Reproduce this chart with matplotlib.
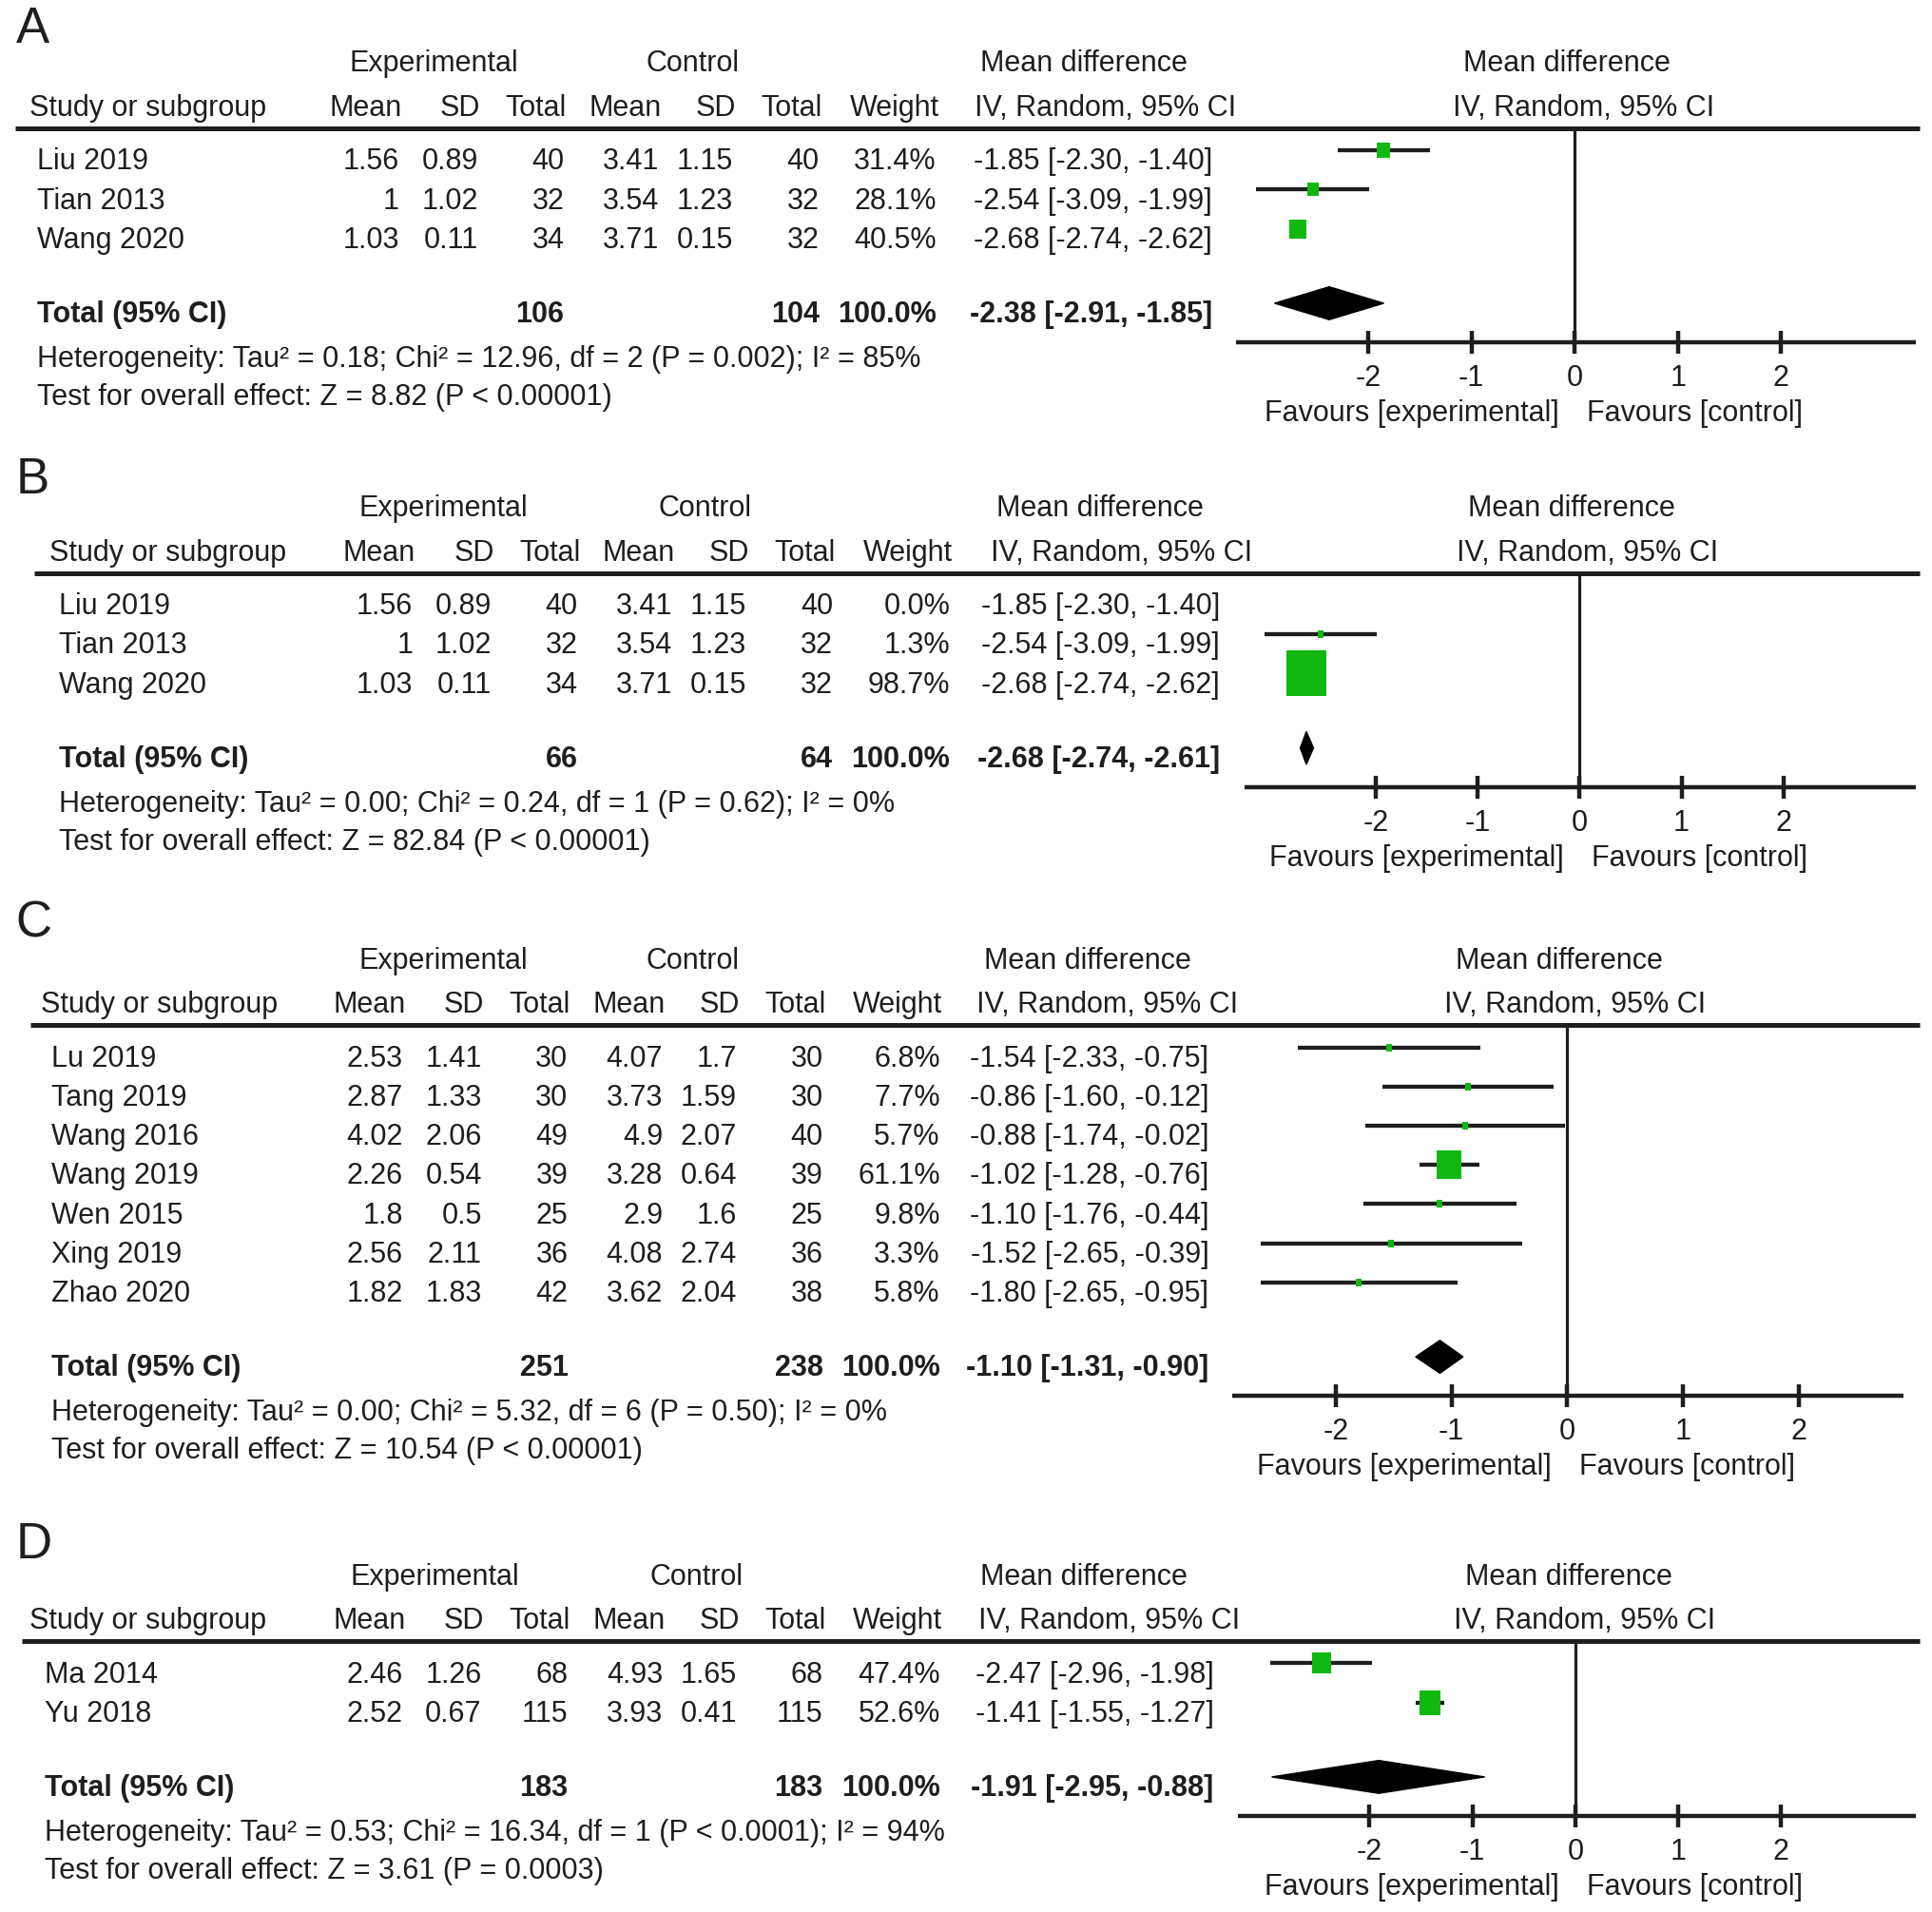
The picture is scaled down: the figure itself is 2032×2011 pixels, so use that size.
import matplotlib
matplotlib.use("Agg")
import matplotlib.pyplot as plt
import matplotlib.transforms as mtransforms
from matplotlib.lines import Line2D
from matplotlib.patches import Polygon

plt.rcParams['font.family'] = ['Liberation Sans', 'DejaVu Sans']

# ---------------- data ----------------
# A
studies_a = ["Liu 2019", "Tian 2013", "Wang 2020"]
exp_mean_a = [1.56, 1, 1.03]
exp_sd_a = [0.89, 1.02, 0.11]
exp_n_a = [40, 32, 34]
ctl_mean_a = [3.41, 3.54, 3.71]
ctl_sd_a = [1.15, 1.23, 0.15]
ctl_n_a = [40, 32, 32]
weight_a = [31.4, 28.1, 40.5]
md_a = [-1.85, -2.54, -2.68]
lo_a = [-2.30, -3.09, -2.74]
hi_a = [-1.40, -1.99, -2.62]
total_a = [106, 104, -2.38, -2.91, -1.85]
het_a = "Heterogeneity: Tau² = 0.18; Chi² = 12.96, df = 2 (P = 0.002); I² = 85%"
test_a = "Test for overall effect: Z = 8.82 (P < 0.00001)"

# B
studies_b = ["Liu 2019", "Tian 2013", "Wang 2020"]
exp_mean_b = [1.56, 1, 1.03]
exp_sd_b = [0.89, 1.02, 0.11]
exp_n_b = [40, 32, 34]
ctl_mean_b = [3.41, 3.54, 3.71]
ctl_sd_b = [1.15, 1.23, 0.15]
ctl_n_b = [40, 32, 32]
weight_b = [0.0, 1.3, 98.7]
md_b = [-1.85, -2.54, -2.68]
lo_b = [-2.30, -3.09, -2.74]
hi_b = [-1.40, -1.99, -2.62]
total_b = [66, 64, -2.68, -2.74, -2.61]
het_b = "Heterogeneity: Tau² = 0.00; Chi² = 0.24, df = 1 (P = 0.62); I² = 0%"
test_b = "Test for overall effect: Z = 82.84 (P < 0.00001)"

# C
studies_c = ["Lu 2019", "Tang 2019", "Wang 2016", "Wang 2019", "Wen 2015", "Xing 2019", "Zhao 2020"]
exp_mean_c = [2.53, 2.87, 4.02, 2.26, 1.8, 2.56, 1.82]
exp_sd_c = [1.41, 1.33, 2.06, 0.54, 0.5, 2.11, 1.83]
exp_n_c = [30, 30, 49, 39, 25, 36, 42]
ctl_mean_c = [4.07, 3.73, 4.9, 3.28, 2.9, 4.08, 3.62]
ctl_sd_c = [1.7, 1.59, 2.07, 0.64, 1.6, 2.74, 2.04]
ctl_n_c = [30, 30, 40, 39, 25, 36, 38]
weight_c = [6.8, 7.7, 5.7, 61.1, 9.8, 3.3, 5.8]
md_c = [-1.54, -0.86, -0.88, -1.02, -1.10, -1.52, -1.80]
lo_c = [-2.33, -1.60, -1.74, -1.28, -1.76, -2.65, -2.65]
hi_c = [-0.75, -0.12, -0.02, -0.76, -0.44, -0.39, -0.95]
total_c = [251, 238, -1.10, -1.31, -0.90]
het_c = "Heterogeneity: Tau² = 0.00; Chi² = 5.32, df = 6 (P = 0.50); I² = 0%"
test_c = "Test for overall effect: Z = 10.54 (P < 0.00001)"

# D
studies_d = ["Ma 2014", "Yu 2018"]
exp_mean_d = [2.46, 2.52]
exp_sd_d = [1.26, 0.67]
exp_n_d = [68, 115]
ctl_mean_d = [4.93, 3.93]
ctl_sd_d = [1.65, 0.41]
ctl_n_d = [68, 115]
weight_d = [47.4, 52.6]
md_d = [-2.47, -1.41]
lo_d = [-2.96, -1.55]
hi_d = [-1.98, -1.27]
total_d = [183, 183, -1.91, -2.95, -0.88]
het_d = "Heterogeneity: Tau² = 0.53; Chi² = 16.34, df = 1 (P < 0.0001); I² = 94%"
test_d = "Test for overall effect: Z = 3.61 (P = 0.0003)"

ticks = [-2, -1, 0, 1, 2]

# ---------------- layout (in 1568 x 1552 reference units) ----------------
W, H = 1568.0, 1552.0
FS = 22
TXT = '#1e1e1e'
GREEN = '#10b810'
PITCH = 31.8
# slightly tall rectangle used for the study markers
BOX = [(-0.45, -0.5), (0.45, -0.5), (0.45, 0.5), (-0.45, 0.5), (-0.45, -0.5)]

fig = plt.figure(figsize=(20.32, 20.11), dpi=100)


def fx(x):
    return x / W


def fy(y):
    return 1 - y / H


def ftext(x, y, s, ha='left', bold=False, size=FS):
    fig.text(fx(x), fy(y), s, ha=ha, va='center', fontsize=size, color=TXT,
             fontweight='bold' if bold else 'normal')


def panel(letter, letter_y, line_y, line_left, name_left, head_left, dx,
          exp_c, ctl_c, md_c_x, ci_c_x, ci_right, ax_left, ax_right, xlim,
          studies, e_m, e_sd, e_n, c_m, c_sd, c_n, w, md, lo, hi, tot, het, test):
    n = len(studies)
    cols = [324 + dx, 388 + dx, 458 + dx, 535 + dx, 595 + dx, 665 + dx, 760 + dx]

    ftext(13, letter_y + 2, letter, size=38)
    # headers
    ftext(exp_c, line_y - 52, "Experimental", ha='center')
    ftext(ctl_c, line_y - 52, "Control", ha='center')
    ftext(md_c_x, line_y - 52, "Mean difference", ha='center')
    hy = line_y - 16
    ftext(head_left, hy, "Study or subgroup")
    for x, s in zip(cols, ["Mean", "SD", "Total", "Mean", "SD", "Total", "Weight"]):
        ftext(x + 2, hy, s, ha='right')
    ftext(ci_c_x, hy, "IV, Random, 95% CI", ha='center')
    fig.add_artist(Line2D([fx(line_left), fx(1558)], [fy(line_y), fy(line_y)],
                          color=TXT, lw=3.6, solid_capstyle='butt'))

    # table rows
    first = line_y + 27.5
    for i in range(n):
        y = first + i * PITCH
        ftext(name_left, y, studies[i])
        vals = [f"{e_m[i]:g}", f"{e_sd[i]:g}", f"{e_n[i]}", f"{c_m[i]:g}",
                f"{c_sd[i]:g}", f"{c_n[i]}", f"{w[i]:.1f}%"]
        for x, s in zip(cols, vals):
            ftext(x, y, s, ha='right')
        ftext(ci_right, y, f"{md[i]:.2f} [{lo[i]:.2f}, {hi[i]:.2f}]", ha='right')

    tidx = n - 1 + 1.9
    ty = first + tidx * PITCH
    ftext(name_left, ty, "Total (95% CI)", bold=True)
    ftext(cols[2], ty, f"{tot[0]}", ha='right', bold=True)
    ftext(cols[5], ty, f"{tot[1]}", ha='right', bold=True)
    ftext(cols[6], ty, "100.0%", ha='right', bold=True)
    ftext(ci_right, ty, f"{tot[2]:.2f} [{tot[3]:.2f}, {tot[4]:.2f}]", ha='right', bold=True)
    ftext(name_left, ty + 36, het)
    ftext(name_left, ty + 67, test)

    # forest plot
    top_pad, bot_pad = 0.57, 1.0
    axis_y = line_y + (top_pad + tidx + bot_pad) * PITCH
    ax = fig.add_axes([fx(ax_left), fy(axis_y), (ax_right - ax_left) / W,
                       (axis_y - line_y) / H])
    ax.set_xlim(*xlim)
    ax.set_ylim(tidx + bot_pad, -top_pad)
    ax.patch.set_alpha(0)
    for s in ['top', 'left', 'right']:
        ax.spines[s].set_visible(False)
    ax.spines['bottom'].set_linewidth(3.2)
    ax.spines['bottom'].set_color(TXT)
    ax.spines['bottom'].set_capstyle('butt')
    ax.set_yticks([])
    ax.set_xticks(ticks)
    ax.set_xticklabels([str(t) for t in ticks])
    ax.tick_params(axis='x', direction='inout', length=17, width=3.2, color=TXT,
                   labelsize=FS, labelcolor=TXT, pad=8)
    ax.axvline(0, color=TXT, lw=2.3, zorder=1)

    for i in range(n):
        if w[i] <= 0:
            continue
        ax.plot([lo[i], hi[i]], [i, i], color=TXT, lw=3.1, solid_capstyle='butt', zorder=2)
        side = max(0.37 * w[i], 5.5) * 1.296 * 0.72
        ax.plot(md[i], i, marker=BOX, markersize=side, color=GREEN,
                markeredgewidth=0, zorder=3)

    hh = 0.42
    ax.add_patch(Polygon([(tot[3], tidx), (tot[2], tidx - hh), (tot[4], tidx),
                          (tot[2], tidx + hh)], closed=True, color='black', zorder=3))

    bt = mtransforms.blended_transform_factory(ax.transAxes, fig.transFigure)
    ax.text(0.487, fy(line_y - 52), "Mean difference", transform=bt, ha='center',
            va='center', fontsize=FS, color=TXT)
    ax.text(0.511, fy(hy), "IV, Random, 95% CI", transform=bt, ha='center',
            va='center', fontsize=FS, color=TXT)
    ax.annotate("Favours [experimental]", xy=(0, 0), xycoords=('data', 'axes fraction'),
                xytext=(-12, -54), textcoords='offset points', ha='right', va='center',
                fontsize=FS, color=TXT)
    ax.annotate("Favours [control]", xy=(0, 0), xycoords=('data', 'axes fraction'),
                xytext=(9, -54), textcoords='offset points', ha='left', va='center',
                fontsize=FS, color=TXT)


panel("A", 22, 104, 12, 30, 24, 0, 352, 562, 880, 897, 984, 1003, 1555, (-3.285, 3.309),
      studies_a, exp_mean_a, exp_sd_a, exp_n_a, ctl_mean_a, ctl_sd_a, ctl_n_a,
      weight_a, md_a, lo_a, hi_a, total_a, het_a, test_a)
panel("B", 388, 465, 28, 48, 40, 11, 360, 572, 893, 910, 990, 1010, 1555, (-3.287, 3.299),
      studies_b, exp_mean_b, exp_sd_b, exp_n_b, ctl_mean_b, ctl_sd_b, ctl_n_b,
      weight_b, md_b, lo_b, hi_b, total_b, het_b, test_b)
panel("C", 748, 832, 25, 42, 33, 3, 360, 562, 883, 899, 981, 1000, 1545, (-2.894, 2.904),
      studies_c, exp_mean_c, exp_sd_c, exp_n_c, ctl_mean_c, ctl_sd_c, ctl_n_c,
      weight_c, md_c, lo_c, hi_c, total_c, het_c, test_c)
panel("D", 1252, 1332, 18, 36, 24, 3, 353, 565, 880, 900, 985, 1005, 1555, (-3.275, 3.311),
      studies_d, exp_mean_d, exp_sd_d, exp_n_d, ctl_mean_d, ctl_sd_d, ctl_n_d,
      weight_d, md_d, lo_d, hi_d, total_d, het_d, test_d)

fig.savefig("out.png", dpi=100)
